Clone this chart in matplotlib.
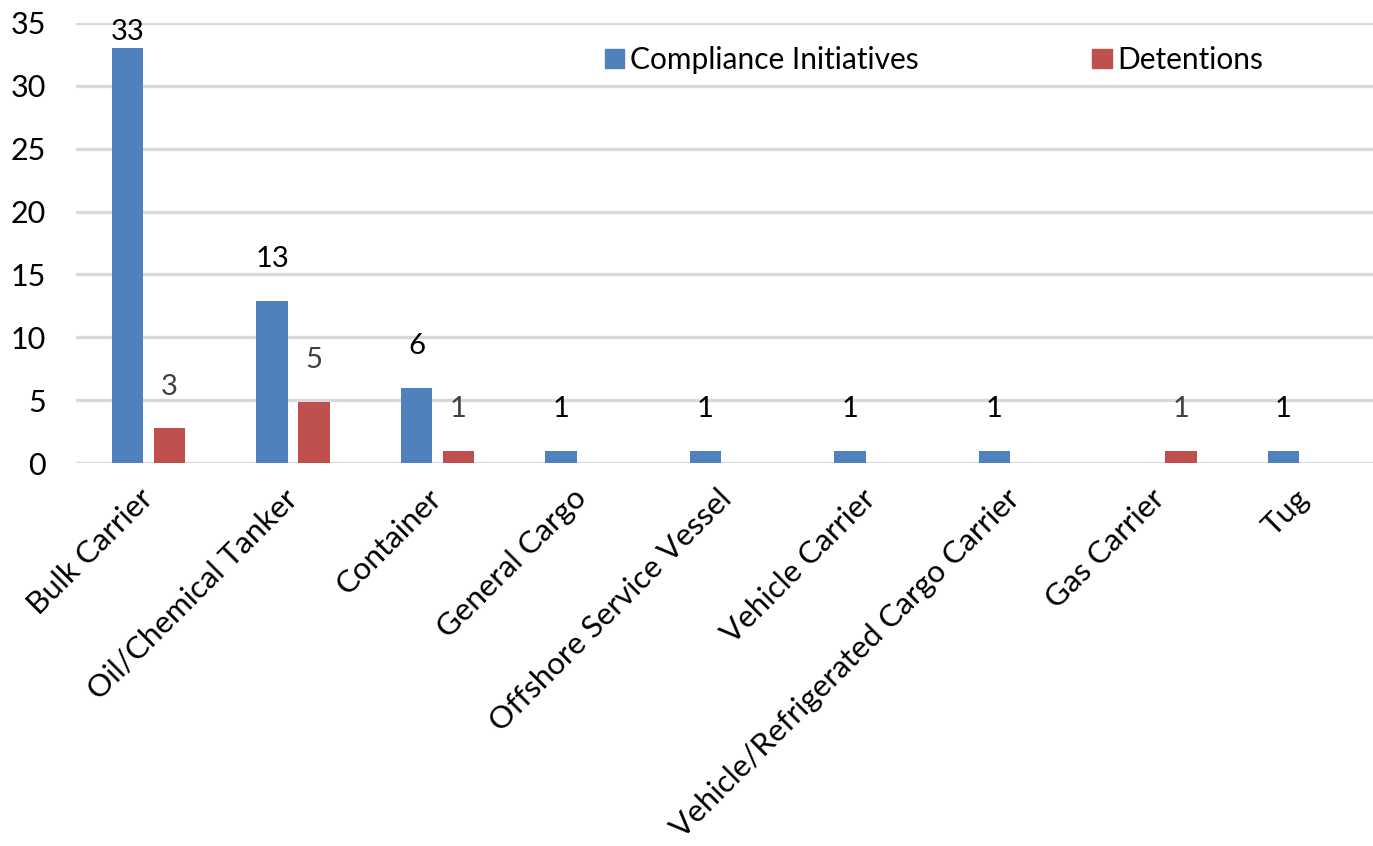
import numpy as np
import matplotlib
matplotlib.use("Agg")
import matplotlib.pyplot as plt
from matplotlib.patches import Patch

plt.rcParams['font.family'] = ['Lato', 'DejaVu Sans']

# data
categories = ['Bulk Carrier', 'Oil/Chemical Tanker', 'Container', 'General Cargo',
              'Offshore Service Vessel', 'Vehicle Carrier',
              'Vehicle/Refrigerated Cargo Carrier', 'Gas Carrier', 'Tug']
compliance = [33, 12.9, 6, 1, 1, 1, 1, 0, 1]
detentions = [2.8, 4.9, 1, 0, 0, 0, 0, 1, 0]

BLUE = '#4F81BD'
RED = '#C0504D'
FS = 21

fig = plt.figure(figsize=(13.73, 8.46), dpi=100)
ax = fig.add_axes([76.25 / 1373, 1 - 463.3 / 846, 1300.5 / 1373, 440.6 / 846])

x = np.arange(len(categories))
w = 0.22
off = 0.145
ax.bar(x - off, compliance, w, color=BLUE, zorder=3)
ax.bar(x + off, detentions, w, color=RED, zorder=3)

# value labels
for i, v in enumerate(compliance):
    if v > 0:
        ax.text(x[i] - off, min(v + 3.3, 34.3), str(round(v)), ha='center',
                va='center', fontsize=FS, color='black', zorder=4)
for i, v in enumerate(detentions):
    if v > 0:
        ax.text(x[i] + off, min(v + 3.3, 34.3), str(round(v)), ha='center',
                va='center', fontsize=FS, color='#404040', zorder=4)

ax.set_xlim(-0.5, len(categories) - 0.5)
ax.set_ylim(0, 35)
ax.set_yticks(range(0, 36, 5))
ax.grid(axis='y', color='#D9D9D9', linewidth=2.4, zorder=0)
ax.set_axisbelow(True)
for s in ax.spines.values():
    s.set_visible(False)
ax.tick_params(axis='y', length=0, pad=22, labelsize=22)
ax.tick_params(axis='x', length=0, pad=22)
ax.set_xticks(x)
ax.set_xticklabels(categories, rotation=45, ha='right', va='center',
                   rotation_mode='anchor', fontsize=22.5)

handles = [Patch(color=BLUE, label='Compliance Initiatives'),
           Patch(color=RED, label='Detentions')]
fig.legend(handles=handles, loc='center left', bbox_to_anchor=(590 / 1373, 1 - 60 / 846),
           ncol=2, frameon=False, fontsize=21.5, handlelength=0.65, handleheight=0.65,
           handletextpad=0.2, columnspacing=5.8, borderpad=0)

fig.savefig('out.png', dpi=100)
